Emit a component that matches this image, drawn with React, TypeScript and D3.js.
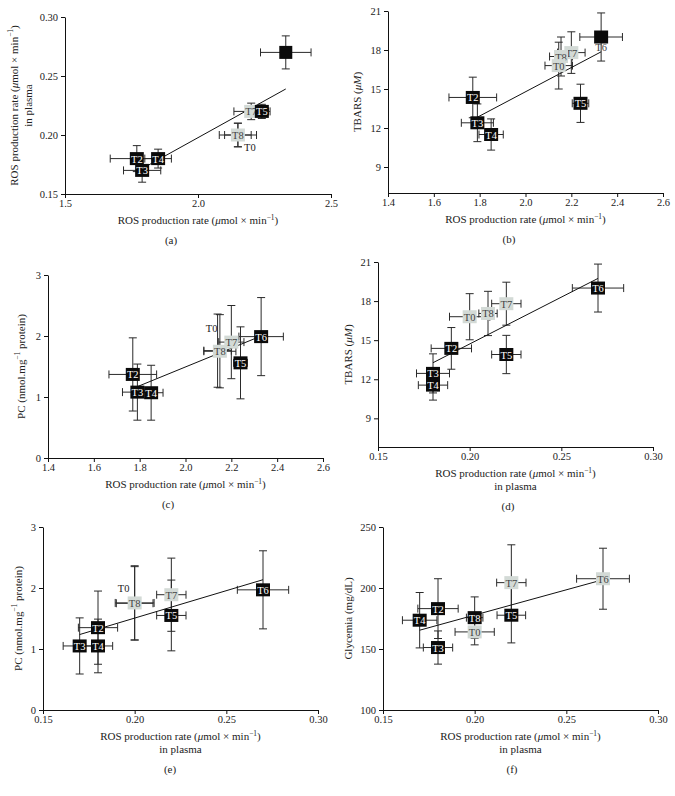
import React, { useEffect, useRef } from 'react';
import * as d3 from 'd3';

// draw order per panel. kind: k = black box, g = grey box, n = hidden box (label only),
// x = black box without label, b = black box with label under it
const aNames = ['T0', 'T2', 'T3', 'T4', 'T8', 'T7', 'T5', 'T6'];
const aKind = ['n', 'k', 'k', 'k', 'g', 'g', 'k', 'x'];
const aX = [2.15, 1.77, 1.79, 1.85, 2.15, 2.2, 2.24, 2.33];
const aXe = [0.07, 0.1, 0.07, 0.05, 0.05, 0.065, 0.031, 0.095];
const aY = [0.2, 0.18, 0.17, 0.18, 0.2, 0.22, 0.22, 0.27];
const aYe = [0.01, 0.011, 0.01, 0.008, 0.01, 0.007, 0.006, 0.014];
const aFit = [[1.81, 0.174], [2.33, 0.239]];

const bNames = ['T2', 'T3', 'T4', 'T5', 'T7', 'T8', 'T0', 'T6'];
const bKind = ['k', 'k', 'k', 'k', 'g', 'g', 'g', 'b'];
const bX = [1.77, 1.79, 1.85, 2.24, 2.2, 2.155, 2.145, 2.33];
const bXe = [0.104, 0.07, 0.053, 0.036, 0.06, 0.05, 0.06, 0.093];
const bY = [14.35, 12.4, 11.5, 13.9, 17.8, 17.5, 16.8, 19.0];
const bYe = [1.56, 1.45, 1.2, 1.47, 1.6, 1.5, 1.8, 1.85];
const bFit = [[1.79, 12.83], [2.33, 17.86]];

const cNames = ['T2', 'T3', 'T4', 'T0', 'T5', 'T7', 'T8', 'T6'];
const cKind = ['k', 'k', 'k', 'n', 'k', 'g', 'g', 'k'];
const cX = [1.77, 1.79, 1.85, 2.14, 2.24, 2.2, 2.15, 2.33];
const cXe = [0.104, 0.065, 0.052, 0.06, 0.03, 0.055, 0.07, 0.097];
const cY = [1.37, 1.08, 1.07, 1.76, 1.56, 1.9, 1.75, 1.99];
const cYe = [0.6, 0.46, 0.45, 0.6, 0.59, 0.6, 0.6, 0.64];
const cFit = [[1.79, 1.17], [2.33, 2.0]];

const dNames = ['T0', 'T8', 'T7', 'T2', 'T3', 'T4', 'T5', 'T6'];
const dKind = ['g', 'g', 'g', 'k', 'k', 'k', 'k', 'k'];
const dX = [0.2, 0.21, 0.22, 0.19, 0.18, 0.18, 0.22, 0.27];
const dXe = [0.011, 0.005, 0.008, 0.011, 0.009, 0.008, 0.008, 0.014];
const dY = [16.8, 17.05, 17.8, 14.37, 12.45, 11.55, 13.9, 19.0];
const dYe = [1.77, 1.7, 1.65, 1.6, 1.5, 1.15, 1.47, 1.84];
const dFit = [[0.18, 13.27], [0.27, 19.74]];

const eNames = ['T0', 'T3', 'T4', 'T2', 'T8', 'T7', 'T5', 'T6'];
const eKind = ['n', 'k', 'k', 'k', 'g', 'g', 'k', 'k'];
const eX = [0.2, 0.17, 0.18, 0.18, 0.2, 0.22, 0.22, 0.27];
const eXe = [0.01, 0.009, 0.008, 0.0107, 0.0106, 0.008, 0.008, 0.014];
const eY = [1.75, 1.05, 1.05, 1.35, 1.755, 1.89, 1.55, 1.97];
const eYe = [0.6, 0.46, 0.44, 0.6, 0.61, 0.6, 0.58, 0.64];
const eFit = [[0.17, 1.237], [0.27, 2.136]];

const fNames = ['T4', 'T2', 'T3', 'T0', 'T8', 'T5', 'T7', 'T6'];
const fKind = ['k', 'k', 'k', 'g', 'k', 'k', 'g', 'g'];
const fX = [0.17, 0.18, 0.18, 0.2, 0.2, 0.22, 0.22, 0.27];
const fXe = [0.0094, 0.011, 0.008, 0.0107, 0.0045, 0.0078, 0.008, 0.0144];
const fY = [173.6, 183.1, 151.2, 164, 175.7, 177.7, 204.4, 207.6];
const fYe = [22.7, 24.5, 13.6, 10.6, 17, 22.7, 31, 25];
const fFit = [[0.17, 165.4], [0.27, 206.8]];

const rosTicks = [1.4, 1.6, 1.8, 2.0, 2.2, 2.4, 2.6];
const plasmaTicks = [0.15, 0.2, 0.25, 0.3];
const tbarsTicks = [9, 12, 15, 18, 21];
const pcTicks = [0, 1, 2, 3];
const glyTicks = [100, 150, 200, 250];

const ROS = [{ t: 'ROS production rate (' }, { t: 'μ', it: true }, { t: 'mol × min' }, { t: '−1', sup: true }, { t: ')' }];
const PLASMA = [{ t: 'in plasma' }];
const TBARS = [{ t: 'TBARS (' }, { t: 'μM', it: true }, { t: ')' }];
const PC = [{ t: 'PC (nmol.mg' }, { t: '−1', sup: true }, { t: ' protein)' }];
const GLY = [{ t: 'Glycemia (mg/dL)' }];

const FONT = "'Liberation Serif', 'DejaVu Serif', serif";
const GREY = '#d3dad6';

const panels = [
  { letter: '(a)', names: aNames, kind: aKind, x: aX, xe: aXe, y: aY, ye: aYe, fit: aFit,
    box: [65, 331, 17, 194], xd: [1.5, 2.5], yd: [0.15, 0.3], xt: [1.5, 2.0, 2.5], yt: plasmaTicks,
    xf: '.1f', yf: '.2f', xTitle: [ROS], yTitle: [ROS, PLASMA], yTitleX: [14, 28], letterX: 171, hiddenOff: [12, 12] },
  { letter: '(b)', names: bNames, kind: bKind, x: bX, xe: bXe, y: bY, ye: bYe, fit: bFit,
    box: [388, 663, 11, 193], xd: [1.4, 2.6], yd: [7, 21], xt: rosTicks, yt: tbarsTicks,
    xf: '.1f', yf: 'd', xTitle: [ROS], yTitle: [TBARS], yTitleX: [357], letterX: 509, hiddenOff: [0, 0] },
  { letter: '(c)', names: cNames, kind: cKind, x: cX, xe: cXe, y: cY, ye: cYe, fit: cFit,
    box: [48, 323, 275, 458], xd: [1.4, 2.6], yd: [0, 3], xt: rosTicks, yt: pcTicks,
    xf: '.1f', yf: 'd', xTitle: [ROS], yTitle: [PC], yTitleX: [21], letterX: 168, hiddenOff: [-6, -22] },
  { letter: '(d)', names: dNames, kind: dKind, x: dX, xe: dXe, y: dY, ye: dYe, fit: dFit,
    box: [378, 653, 262, 447], xd: [0.15, 0.3], yd: [6.8, 21], xt: plasmaTicks, yt: tbarsTicks,
    xf: '.2f', yf: 'd', xTitle: [ROS, PLASMA], yTitle: [TBARS], yTitleX: [348], letterX: 508, hiddenOff: [0, 0] },
  { letter: '(e)', names: eNames, kind: eKind, x: eX, xe: eXe, y: eY, ye: eYe, fit: eFit,
    box: [43, 318, 527, 710], xd: [0.15, 0.3], yd: [0, 3], xt: plasmaTicks, yt: pcTicks,
    xf: '.2f', yf: 'd', xTitle: [ROS, PLASMA], yTitle: [PC], yTitleX: [18], letterX: 170, hiddenOff: [-11, -15] },
  { letter: '(f)', names: fNames, kind: fKind, x: fX, xe: fXe, y: fY, ye: fYe, fit: fFit,
    box: [383, 658, 527, 710], xd: [0.15, 0.3], yd: [100, 250], xt: plasmaTicks, yt: glyTicks,
    xf: '.2f', yf: 'd', xTitle: [ROS, PLASMA], yTitle: [GLY], yTitleX: [348], letterX: 512, hiddenOff: [0, 0] },
];

// text with superscripts / italics
function rich(text, segs, fs) {
  let shift = 0;
  segs.forEach(s => {
    const target = s.sup ? -fs * 0.4 : 0;
    const ts = text.append('tspan').text(s.t).attr('dy', target - shift);
    shift = target;
    if (s.sup) ts.attr('font-size', fs * 0.68);
    if (s.it) ts.attr('font-style', 'italic');
  });
}

const App = () => {
  const svgRef = useRef(null);

  useEffect(() => {
    const svg = d3.select(svgRef.current);
    svg.selectAll('*').remove();

    panels.forEach(p => {
      const [l, r, t, b] = p.box;
      const x = d3.scaleLinear().domain(p.xd).range([l, r]);
      const y = d3.scaleLinear().domain(p.yd).range([b, t]);
      const g = svg.append('g');

      const xAxis = g.append('g')
        .attr('transform', `translate(0,${b})`)
        .call(d3.axisBottom(x).tickValues(p.xt).tickFormat(d3.format(p.xf)).tickSize(4).tickSizeOuter(0).tickPadding(2));
      const yAxis = g.append('g')
        .attr('transform', `translate(${l},0)`)
        .call(d3.axisLeft(y).tickValues(p.yt).tickFormat(d3.format(p.yf)).tickSize(4).tickSizeOuter(0).tickPadding(3));
      [xAxis, yAxis].forEach(ax => {
        ax.attr('font-family', FONT).attr('font-size', 10.5);
        ax.selectAll('text').attr('fill', '#222');
        ax.selectAll('line, path').attr('stroke', '#111');
      });

      // titles
      p.xTitle.forEach((segs, i) => {
        const tx = g.append('text')
          .attr('x', (l + r) / 2).attr('y', b + 30 + i * 13)
          .attr('text-anchor', 'middle').attr('font-family', FONT).attr('font-size', 11).attr('fill', '#222');
        rich(tx, segs, 11);
      });
      p.yTitle.forEach((segs, i) => {
        const ty = g.append('text')
          .attr('transform', `translate(${p.yTitleX[i]},${(t + b) / 2}) rotate(-90)`)
          .attr('text-anchor', 'middle').attr('dominant-baseline', 'central')
          .attr('font-family', FONT).attr('font-size', 11).attr('fill', '#222');
        rich(ty, segs, 11);
      });
      g.append('text')
        .attr('x', p.letterX).attr('y', b + 30 + p.xTitle.length * 13 + 7)
        .attr('text-anchor', 'middle').attr('font-family', FONT).attr('font-size', 11).attr('fill', '#222')
        .text(p.letter);

      const idx = d3.range(p.names.length);
      const cap = 4;

      // error bars
      idx.forEach(i => {
        const cx = x(p.x[i]), cy = y(p.y[i]);
        const x0 = x(p.x[i] - p.xe[i]), x1 = x(p.x[i] + p.xe[i]);
        const y0 = y(p.y[i] - p.ye[i]), y1 = y(p.y[i] + p.ye[i]);
        const eb = g.append('g').attr('stroke', '#2a2a2a').attr('stroke-width', 1).attr('fill', 'none');
        eb.append('line').attr('x1', x0).attr('x2', x1).attr('y1', cy).attr('y2', cy);
        eb.append('line').attr('x1', x0).attr('x2', x0).attr('y1', cy - cap).attr('y2', cy + cap);
        eb.append('line').attr('x1', x1).attr('x2', x1).attr('y1', cy - cap).attr('y2', cy + cap);
        eb.append('line').attr('x1', cx).attr('x2', cx).attr('y1', y0).attr('y2', y1);
        eb.append('line').attr('x1', cx - cap).attr('x2', cx + cap).attr('y1', y0).attr('y2', y0);
        eb.append('line').attr('x1', cx - cap).attr('x2', cx + cap).attr('y1', y1).attr('y2', y1);
      });

      // regression line
      g.append('line')
        .attr('x1', x(p.fit[0][0])).attr('y1', y(p.fit[0][1]))
        .attr('x2', x(p.fit[1][0])).attr('y2', y(p.fit[1][1]))
        .attr('stroke', '#111').attr('stroke-width', 1);

      // boxes + labels
      idx.forEach(i => {
        const k = p.kind[i];
        const cx = x(p.x[i]), cy = y(p.y[i]);
        if (k === 'n') {
          g.append('text')
            .attr('x', cx + p.hiddenOff[0]).attr('y', cy + p.hiddenOff[1])
            .attr('text-anchor', 'middle').attr('dominant-baseline', 'central')
            .attr('font-family', FONT).attr('font-size', 10.5).attr('fill', '#222')
            .text(p.names[i]);
          return;
        }
        const w = k === 'x' ? 13 : 14, h = 13;
        g.append('rect')
          .attr('x', cx - w / 2).attr('y', cy - h / 2).attr('width', w).attr('height', h)
          .attr('fill', k === 'g' ? GREY : '#0a0a0a');
        if (k === 'x') return;
        g.append('text')
          .attr('x', cx).attr('y', k === 'b' ? cy + 10 : cy + 0.5)
          .attr('text-anchor', 'middle').attr('dominant-baseline', 'central')
          .attr('font-family', FONT).attr('font-size', 10.5)
          .attr('fill', k === 'k' ? '#fff' : '#444')
          .text(p.names[i]);
      });
    });
  }, []);

  return (
    <svg ref={svgRef} width={675} height={796}
      style={{ position: 'absolute', left: 0, top: 0, background: '#fff' }} />
  );
};

export default App;
